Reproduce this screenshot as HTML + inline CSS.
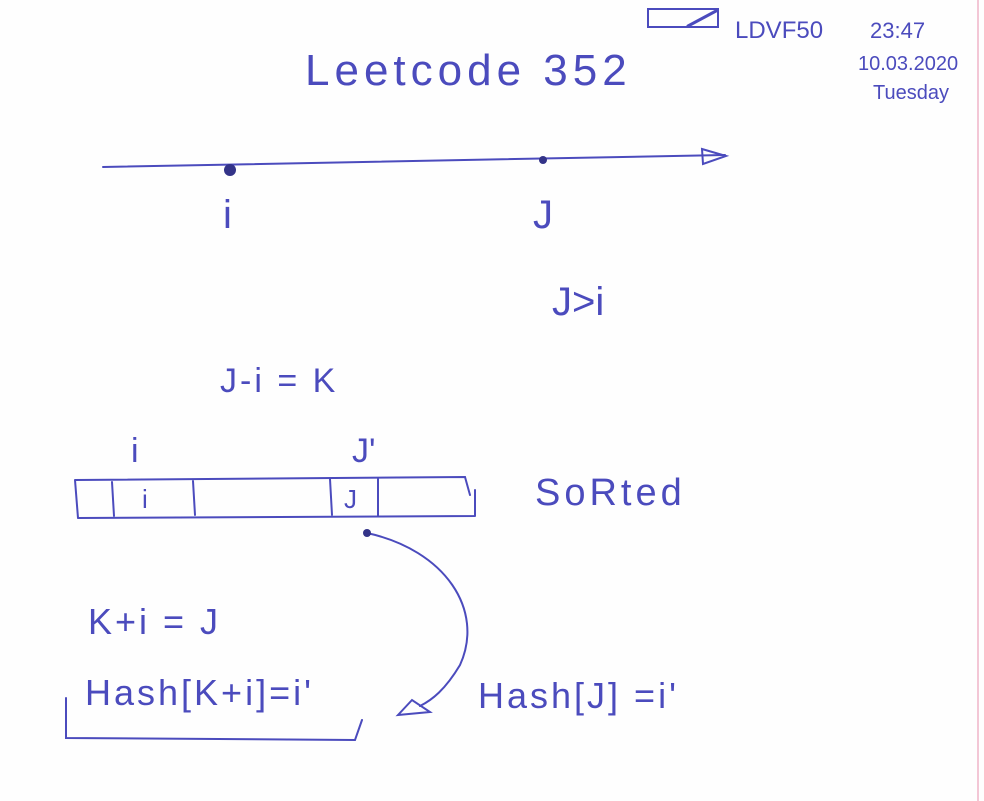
<!DOCTYPE html>
<html><head><meta charset="utf-8"><style>
html,body{margin:0;padding:0;background:#fefefe;}
svg{display:block}
text{font-family:"Liberation Sans",sans-serif;fill:#4b4bbd;}
</style></head><body>
<svg width="984" height="801" viewBox="0 0 984 801">
<rect x="0" y="0" width="984" height="801" fill="#fefefe"/>
<line x1="978" y1="0" x2="978" y2="801" stroke="#f3c7d6" stroke-width="2"/>
<g stroke="#4b4bbd" fill="none" stroke-width="2" stroke-linecap="round">
<rect x="648" y="9" width="70" height="18"/>
<line x1="688" y1="26" x2="716" y2="11" stroke-width="3"/>
<path d="M103 167 L725 155"/>
<path d="M702 149 L726 156 L703 164 Z"/>
<g>
<path d="M75 480 L465 477 L470 495 M78 518 L475 516 M75 480 L78 518 M475 490 L475 516"/>
<path d="M112 482 L114 516 M193 481 L195 515 M330 479 L332 515 M378 479 L378 516"/>
</g>
<path d="M367 533 C445 550, 485 610, 460 665 C445 690, 432 700, 420 706"/>
<path d="M398 715 L412 700 L430 712 Z"/>
<path d="M66 698 L66 738 L355 740 L362 720"/>
</g>
<circle cx="230" cy="170" r="6" fill="#333388"/>
<circle cx="543" cy="160" r="4" fill="#333388"/>
<circle cx="367" cy="533" r="4" fill="#333388"/>
<text x="305" y="85" font-size="44" letter-spacing="5">Leetcode 352</text>
<text x="735" y="38" font-size="24">LDVF50</text>
<text x="870" y="38" font-size="22">23:47</text>
<text x="858" y="70" font-size="20">10.03.2020</text>
<text x="873" y="99" font-size="20">Tuesday</text>
<text x="223" y="228" font-size="40">i</text>
<text x="533" y="228" font-size="40">J</text>
<text x="552" y="315" font-size="40">J&gt;i</text>
<text x="220" y="392" font-size="34" letter-spacing="3">J-i = K</text>
<text x="131" y="462" font-size="34">i</text>
<text x="352" y="462" font-size="34">J'</text>
<text x="142" y="508" font-size="26">i</text>
<text x="344" y="508" font-size="26">J</text>
<text x="535" y="505" font-size="38" letter-spacing="4">SoRted</text>
<text x="88" y="634" font-size="36" letter-spacing="3">K+i  = J</text>
<text x="85" y="705" font-size="36" letter-spacing="3">Hash[K+i]=i'</text>
<text x="478" y="708" font-size="36" letter-spacing="3">Hash[J] =i'</text>
</svg>
</body></html>
